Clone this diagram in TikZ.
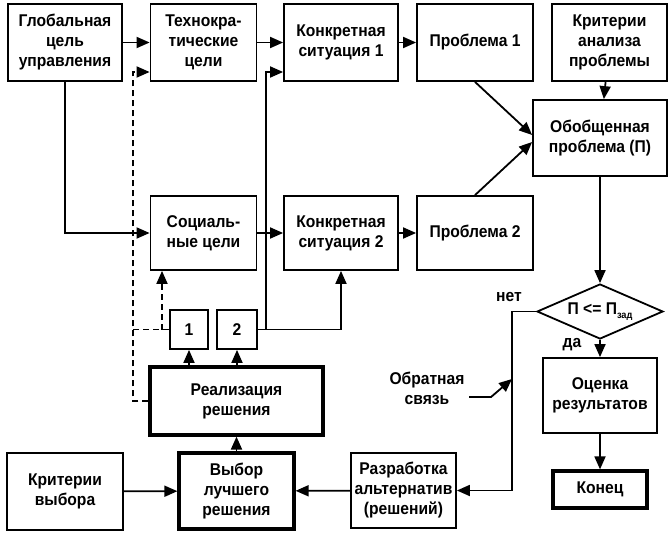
\documentclass[tikz,border=0pt]{standalone}
\usepackage{fontspec}
\setmainfont{Liberation Sans}[FakeStretch=0.92]
\usetikzlibrary{arrows.meta,shapes.geometric}

\tikzset{
  box/.style={draw, line width=1.8pt, align=center, inner sep=0pt},
  bbox/.style={box, line width=3.2pt},
  arr/.style={line width=1.8pt, -{Triangle[length=13pt,width=11pt]}},
  dsh/.style={line width=1.8pt, dash pattern=on 6pt off 4pt}
}

\begin{document}
\begin{tikzpicture}[x=1pt, y=-1pt, font=\bfseries\fontsize{17}{20}\selectfont]
        \useasboundingbox (0,0) rectangle (672,536);
        % top row
        \node[box, minimum width=114pt, minimum height=77pt] (glob) at (65,42.5) {Глобальная\\цель\\управления};
        \node[box, minimum width=106pt, minimum height=77pt] (tech) at (203.5,42.5) {Технокра-\\тические\\цели};
        \node[box, minimum width=114pt, minimum height=77pt] (sit1) at (341,42.5) {Конкретная\\ситуация 1};
        \node[box, minimum width=116pt, minimum height=77pt] (prob1) at (475,42.5) {Проблема 1};
        \node[box, minimum width=115pt, minimum height=77pt] (kran) at (609.5,42.5) {Критерии\\анализа\\проблемы};
        \node[box, minimum width=134pt, minimum height=76pt] (gen) at (600,138) {Обобщенная\\проблема (П)};
        % second row
        \node[box, minimum width=106pt, minimum height=74pt] (soc) at (203.5,233) {Социаль-\\ные цели};
        \node[box, minimum width=114pt, minimum height=74pt] (sit2) at (341,233) {Конкретная\\ситуация 2};
        \node[box, minimum width=116pt, minimum height=74pt] (prob2) at (475,233) {Проблема 2};
        % decision
        \node[draw, line width=1.8pt, diamond, aspect=2.3, inner sep=0pt, minimum width=126pt, minimum height=55pt] (dia) at (600,311.5)
             {\makebox[0pt]{П <= П{\fontsize{10}{10}\selectfont\raisebox{-4pt}{зад}}}};
        \node (no) at (509,297) {нет};
        \node (yes) at (572,345) {да};
        % lower part
        \node[box, minimum width=38pt, minimum height=39pt] (one) at (189,329.5) {1};
        \node[box, minimum width=40pt, minimum height=39pt] (two) at (237,329.5) {2};
        \node[bbox, minimum width=173pt, minimum height=68pt] (real) at (236.5,401) {Реализация\\решения};
        \node[box, minimum width=116pt, minimum height=77pt] (krvyb) at (65,491.5) {Критерии\\выбора};
        \node[bbox, minimum width=115pt, minimum height=76pt] (vyb) at (236.5,491) {Выбор\\лучшего\\решения};
        \node[box, minimum width=105pt, minimum height=75pt] (razr) at (403.5,490.5) {Разработка\\альтернатив\\(решений)};
        \node[box, minimum width=114pt, minimum height=75pt] (ocen) at (600,395.5) {Оценка\\результатов};
        \node[bbox, minimum width=94pt, minimum height=37pt] (fin) at (600,489.5) {Конец};
        \node[align=center] (fbl) at (427,388) {Обратная\\связь};
        % junctions
        \coordinate (fbtop) at (512,311.5);
        \coordinate (fbin) at (512,379);
        \coordinate (j2) at (266,329.5);
        \coordinate (d1) at (133,401);
        \coordinate (d2) at (162,329.5);
        % connectors
        \draw[arr] (glob) -- (tech);
        \draw[arr] (glob.south) |- (soc.west);
        \draw[arr] (tech) -- (sit1);
        \draw[arr] (sit1) -- (prob1);
        \draw[arr] (soc) -- (sit2);
        \draw[arr] (sit2) -- (prob2);
        \draw[arr] (prob1.south) -- ([yshift=3pt]gen.west);
        \draw[arr] (prob2.north) -- ([yshift=-4pt]gen.west);
        \draw[arr] (kran) -- (gen);
        \draw[arr] (gen) -- (dia);
        \draw[arr] (dia) -- (ocen);
        \draw[arr] (ocen) -- (fin);
        \draw[arr] (dia.west) -- (fbtop) |- (razr.east);
        \draw[arr] ([xshift=1pt,yshift=-9pt]fbl.east) -- ++(22,0) -- (fbin);
        \draw[arr] (razr) -- (vyb);
        \draw[arr] (krvyb) -- (vyb);
        \draw[arr] (vyb) -- (real);
        \draw[arr] (one.south |- real.north) -- (one.south);
        \draw[arr] (two.south |- real.north) -- (two.south);
        \draw[arr] (two.east) -| (sit2.south);
        \draw[arr] (j2) |- ([yshift=-29.5pt]sit1.west);
        % dashed feedback
        \draw[dsh, arr] (real.west) -- (d1) |- ([yshift=-29.5pt]tech.west);
        \draw[dsh] (one.west) -- (one.west -| d1);
        \draw[dsh, arr] (d2) -- (d2 |- soc.south);
\end{tikzpicture}
\end{document}
